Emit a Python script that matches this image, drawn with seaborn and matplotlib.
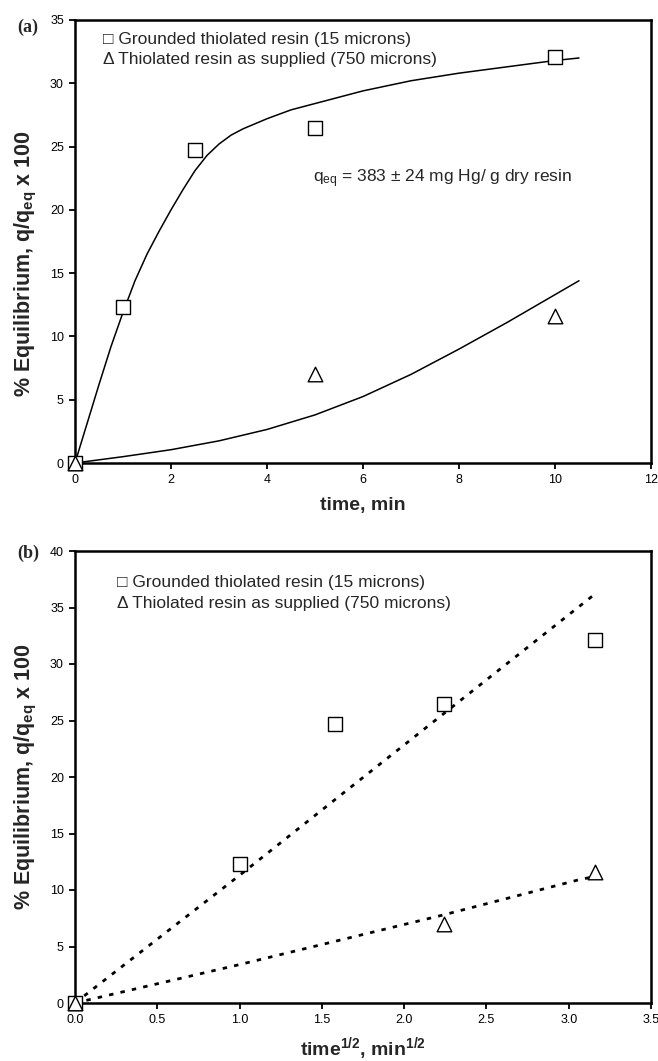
import matplotlib
matplotlib.use("Agg")
import matplotlib.pyplot as plt
import seaborn as sns

# ---------------- data ----------------
# panel (a): uptake vs time
time_min = [0, 1, 2.5, 5, 10]
ground_pct = [0, 12.3, 24.7, 26.5, 32.1]
supplied_time = [0, 5, 10]
supplied_pct = [0, 7.0, 11.6]

# fitted curves in (a)
ground_fit_t = [0, 0.5, 0.75, 1, 1.25, 1.5, 1.75, 2, 2.25, 2.5, 2.75, 3, 3.25, 3.5,
                4, 4.5, 5, 6, 7, 8, 9, 10, 10.5]
ground_fit_v = [0, 6.2, 9.2, 11.9, 14.4, 16.5, 18.3, 20.0, 21.6, 23.1, 24.3, 25.2,
                25.9, 26.4, 27.2, 27.9, 28.4, 29.4, 30.2, 30.8, 31.3, 31.8, 32.0]
supplied_fit_t = [0, 1, 2, 3, 4, 5, 6, 7, 8, 9, 10, 10.5]
supplied_fit_v = [0, 0.5, 1.05, 1.75, 2.65, 3.8, 5.25, 7.0, 9.0, 11.1, 13.3, 14.4]

# panel (b): uptake vs sqrt(time)
sqrt_time = [0, 1.0, 1.58, 2.24, 3.16]
sqrt_supplied = [0, 2.24, 3.16]
ground_lin_x = [0, 1.0, 1.58, 2.24, 3.16]
ground_lin_v = [0, 11.3, 18.0, 25.6, 36.2]
supplied_lin_x = [0, 0.25, 1.0, 2.24, 3.06, 3.16]
supplied_lin_v = [0, 0.85, 3.4, 7.8, 10.9, 11.2]

legend_labels = ["\u25a1 Grounded thiolated resin (15 microns)",
                 "\u0394 Thiolated resin as supplied (750 microns)"]
ylabel = r"% Equilibrium, q/q$_{\mathbf{eq}}$ x 100"

# ---------------- style ----------------
sns.set_style("ticks")
plt.rcParams["font.family"] = ["Liberation Sans", "DejaVu Sans"]
plt.rcParams["mathtext.fontset"] = "custom"
plt.rcParams["mathtext.rm"] = "Liberation Sans"
plt.rcParams["mathtext.bf"] = "Liberation Sans:bold"
plt.rcParams["mathtext.it"] = "Liberation Sans:italic"

W, H = 658, 1061
fig = plt.figure(figsize=(W / 100, H / 100), dpi=100)

def px_axes(x0, y0, x1, y1):
    return fig.add_axes([x0 / W, 1 - y1 / H, (x1 - x0) / W, (y1 - y0) / H])

ax_a = px_axes(75, 20, 651, 463)
ax_b = px_axes(75, 551, 651, 1003)

sq_kw = dict(marker="s", s=88, color="white", edgecolor="black", linewidth=1.0,
             zorder=4, clip_on=False, legend=False)
tr_kw = dict(marker="^", s=110, color="white", edgecolor="black", linewidth=1.0,
             zorder=4, clip_on=False, legend=False)

# ----- panel (a)
sns.lineplot(x=ground_fit_t, y=ground_fit_v, ax=ax_a, color="black", lw=1.1,
             sort=False, estimator=None)
sns.lineplot(x=supplied_fit_t, y=supplied_fit_v, ax=ax_a, color="black", lw=1.1,
             sort=False, estimator=None)
sns.scatterplot(x=time_min, y=ground_pct, ax=ax_a, **sq_kw)
sns.scatterplot(x=supplied_time, y=supplied_pct, ax=ax_a, **tr_kw)

# ----- panel (b)
dot = (0, (1.6, 2.6))
sns.lineplot(x=ground_lin_x, y=ground_lin_v, ax=ax_b, color="black", lw=2.0,
             linestyle=dot, sort=False, estimator=None)
sns.lineplot(x=supplied_lin_x, y=supplied_lin_v, ax=ax_b, color="black", lw=2.0,
             linestyle=dot, sort=False, estimator=None)
sns.scatterplot(x=sqrt_time, y=ground_pct, ax=ax_b, **sq_kw)
sns.scatterplot(x=sqrt_supplied, y=supplied_pct, ax=ax_b, **tr_kw)

def style_axes(ax, xlim, xticks, xfmt, ylim, yticks, xlabel, xlab_y, ylab_y):
    ax.set_xlim(*xlim)
    ax.set_ylim(*ylim)
    ax.set_xticks(xticks)
    ax.set_xticklabels([xfmt.format(v) for v in xticks])
    ax.set_yticks(yticks)
    ax.set_yticklabels([str(v) for v in yticks])
    for sp in ax.spines.values():
        sp.set_visible(True)
        sp.set_linewidth(1.8)
        sp.set_color("black")
    ax.tick_params(axis="both", direction="out", length=4, width=1.3,
                   labelsize=9, pad=4, colors="black")
    ax.tick_params(top=False, right=False)
    ax.set_xlabel(xlabel, fontsize=14, fontweight="bold", va="center")
    ax.xaxis.set_label_coords(0.5, xlab_y)
    ax.set_ylabel(ylabel, fontsize=15.5, fontweight="bold", va="center")
    ax.yaxis.set_label_coords(-0.085, ylab_y)
    ax.set_facecolor("white")

style_axes(ax_a, (0, 12), [0, 2, 4, 6, 8, 10, 12], "{:d}", (0, 35),
           [0, 5, 10, 15, 20, 25, 30, 35], "time, min", -0.095, 0.45)
style_axes(ax_b, (0, 3.5), [0, 0.5, 1.0, 1.5, 2.0, 2.5, 3.0, 3.5], "{:.1f}", (0, 40),
           [0, 5, 10, 15, 20, 25, 30, 35, 40],
           r"time$^{\mathbf{1/2}}$, min$^{\mathbf{1/2}}$", -0.1, 0.5)

# legends as text lines
for ax, x0, ys in [(ax_a, 0.0486, (0.957, 0.910)), (ax_b, 0.073, (0.931, 0.883))]:
    for lab, yy in zip(legend_labels, ys):
        ax.text(x0, yy, lab, transform=ax.transAxes, fontsize=12.5,
                ha="left", va="center")

ax_a.text(4.96, 22.5, r"q$_{\mathrm{eq}}$ = 383 $\pm$ 24 mg Hg/ g dry resin",
          fontsize=12.5, ha="left", va="center")

fig.text(17 / W, 1 - 27 / H, "(a)", fontsize=13, fontweight="bold",
         family="Liberation Serif", ha="left", va="center")
fig.text(17 / W, 1 - 553 / H, "(b)", fontsize=13, fontweight="bold",
         family="Liberation Serif", ha="left", va="center")

fig.savefig("out.png", dpi=100, facecolor="white")
